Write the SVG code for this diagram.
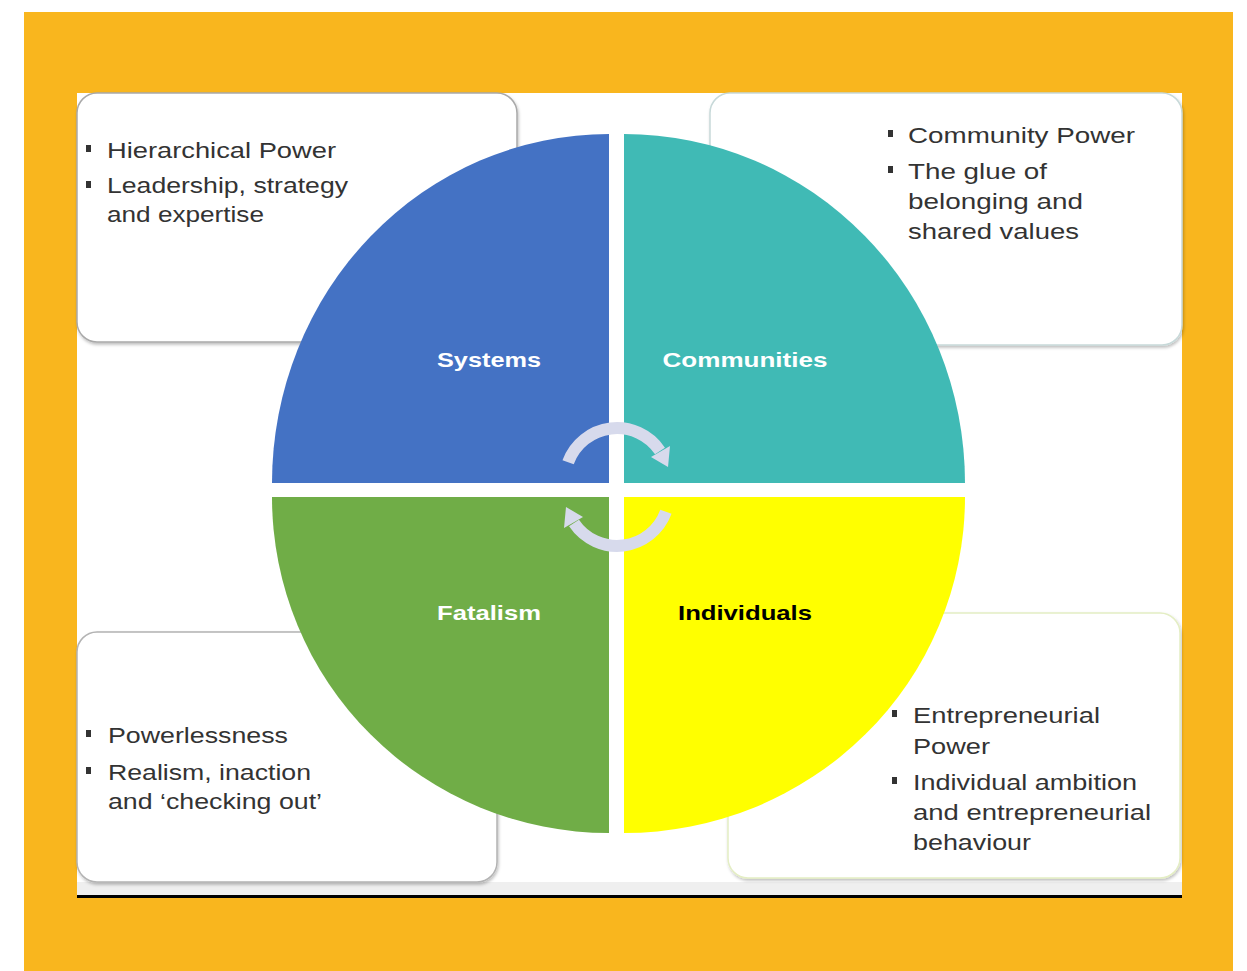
<svg xmlns="http://www.w3.org/2000/svg" width="1247" height="971" viewBox="0 0 1247 971">
  <style>
    .panel-bg { fill: #ffffff; }
    .box { fill: #ffffff; stroke-width: 1.5; }
    .note { font-family: "Liberation Sans", Arial, sans-serif; font-size: 22px; fill: #333333; }
    .label { font-family: "Liberation Sans", Arial, sans-serif; font-size: 21px; font-weight: bold; text-anchor: middle; }
    .bullet { fill: #333333; }
    .cycle { fill: none; stroke: #D7DAEC; stroke-width: 12; }
    .cycle-head { fill: #D7DAEC; }
  </style>
  <defs>
    <filter id="boxShadow" x="-5%" y="-5%" width="110%" height="115%">
      <feDropShadow dx="1" dy="2" stdDeviation="1.5" flood-color="#000000" flood-opacity="0.25"/>
    </filter>
  </defs>

  <!-- page background and frame -->
  <rect x="0" y="0" width="1247" height="971" fill="#ffffff"/>
  <rect x="24" y="12" width="1209" height="959" fill="#F9B61E"/>
  <rect class="panel-bg" x="77" y="93" width="1105" height="802"/>
  <rect x="77" y="882" width="1105" height="13" fill="#efefef"/>
  <rect x="77" y="895" width="1105" height="3" fill="#000000"/>

  <!-- corner description boxes -->
  <g id="box-systems">
    <rect class="box" x="77" y="93" width="440" height="249" rx="20" stroke="#a9a9a9" filter="url(#boxShadow)"/>
    <rect class="bullet" x="86" y="145" width="5" height="7"/>
    <text class="note" x="107" y="158" textLength="229" lengthAdjust="spacingAndGlyphs">Hierarchical Power</text>
    <rect class="bullet" x="86" y="181" width="5" height="7"/>
    <text class="note" x="107" y="193" textLength="241" lengthAdjust="spacingAndGlyphs">Leadership, strategy</text>
    <text class="note" x="107" y="222" textLength="157" lengthAdjust="spacingAndGlyphs">and expertise</text>
  </g>

  <g id="box-communities">
    <rect class="box" x="710" y="93" width="472" height="252" rx="20" stroke="#c7d9d9" filter="url(#boxShadow)"/>
    <rect class="bullet" x="888" y="130" width="5" height="7"/>
    <text class="note" x="908" y="143" textLength="227" lengthAdjust="spacingAndGlyphs">Community Power</text>
    <rect class="bullet" x="888" y="166" width="5" height="7"/>
    <text class="note" x="908" y="179" textLength="139" lengthAdjust="spacingAndGlyphs">The glue of</text>
    <text class="note" x="908" y="209" textLength="175" lengthAdjust="spacingAndGlyphs">belonging and</text>
    <text class="note" x="908" y="239" textLength="171" lengthAdjust="spacingAndGlyphs">shared values</text>
  </g>

  <g id="box-fatalism">
    <rect class="box" x="77" y="632" width="420" height="250" rx="20" stroke="#b3b3b3" filter="url(#boxShadow)"/>
    <rect class="bullet" x="86" y="730" width="5" height="7"/>
    <text class="note" x="108" y="743" textLength="180" lengthAdjust="spacingAndGlyphs">Powerlessness</text>
    <rect class="bullet" x="86" y="767" width="5" height="7"/>
    <text class="note" x="108" y="780" textLength="203" lengthAdjust="spacingAndGlyphs">Realism, inaction</text>
    <text class="note" x="108" y="809" textLength="214" lengthAdjust="spacingAndGlyphs">and ‘checking out’</text>
  </g>

  <g id="box-individuals">
    <rect class="box" x="728" y="613" width="452" height="265" rx="20" stroke="#e4eec4" filter="url(#boxShadow)"/>
    <rect class="bullet" x="892" y="710" width="5" height="7"/>
    <text class="note" x="913" y="723" textLength="187" lengthAdjust="spacingAndGlyphs">Entrepreneurial</text>
    <text class="note" x="913" y="754" textLength="77" lengthAdjust="spacingAndGlyphs">Power</text>
    <rect class="bullet" x="892" y="777" width="5" height="7"/>
    <text class="note" x="913" y="790" textLength="224" lengthAdjust="spacingAndGlyphs">Individual ambition</text>
    <text class="note" x="913" y="820" textLength="238" lengthAdjust="spacingAndGlyphs">and entrepreneurial</text>
    <text class="note" x="913" y="850" textLength="118" lengthAdjust="spacingAndGlyphs">behaviour</text>
  </g>

  <!-- four quadrants of the matrix -->
  <g id="quadrant-systems">
    <path d="M609,483 L272,483 A337,349 0 0 1 609,134 Z" fill="#4472C4"/>
    <text class="label" x="489" y="367" fill="#ffffff" textLength="104" lengthAdjust="spacingAndGlyphs">Systems</text>
  </g>
  <g id="quadrant-communities">
    <path d="M624,483 L624,134 A341,349 0 0 1 965,483 Z" fill="#40BAB5"/>
    <text class="label" x="745" y="367" fill="#ffffff" textLength="165" lengthAdjust="spacingAndGlyphs">Communities</text>
  </g>
  <g id="quadrant-fatalism">
    <path d="M609,497 L609,833 A337,336 0 0 1 272,497 Z" fill="#70AD47"/>
    <text class="label" x="489" y="620" fill="#ffffff" textLength="104" lengthAdjust="spacingAndGlyphs">Fatalism</text>
  </g>
  <g id="quadrant-individuals">
    <path d="M624,497 L965,497 A341,336 0 0 1 624,833 Z" fill="#FFFF00"/>
    <text class="label" x="745" y="620" fill="#000000" textLength="134" lengthAdjust="spacingAndGlyphs">Individuals</text>
  </g>

  <!-- central cycle arrows -->
  <g id="connectors">
    <path class="cycle" d="M568.1,462.2 A52,52 0 0 1 660,451"/>
    <polygon class="cycle-head" points="651,457 670,446 668,467"/>
    <path class="cycle" d="M665.9,511.8 A52,52 0 0 1 574,523"/>
    <polygon class="cycle-head" points="583,517 564,528 566,507"/>
  </g>
</svg>
